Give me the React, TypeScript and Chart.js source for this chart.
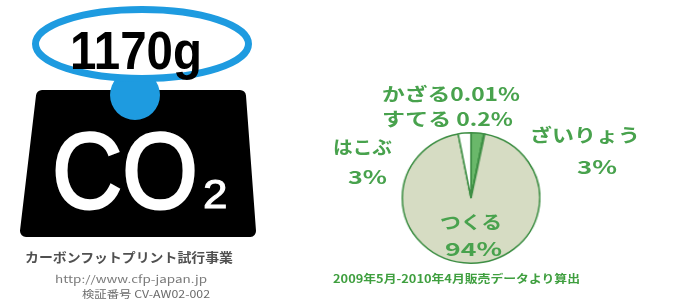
import React, { useEffect, useRef } from "react";
import { Chart, registerables } from "chart.js";

Chart.register(...registerables);

// ---- data ----
const categories = ["ざいりょう", "かざる", "すてる", "つくる", "はこぶ"];
const values = [3, 0.01, 0.2, 94, 3];
const sliceColors = ["#6ab86a", "#6ab86a", "#ffffff", "#d6dcc3", "#ffffff"];
const footprintValue = "1170g";
const periodNote = "2009年5月-2010年4月販売データより算出";
const logoLines = ["カーボンフットプリント試行事業", "http://www.cfp-japan.jp", "検証番号 CV-AW02-002"];

const GREEN = "#48a24d";
const JP = "'Noto Sans CJK JP', 'Noto Sans', sans-serif";

function pct(i: number) {
  return `${values[i]}%`;
}

export default function App() {
  const ref = useRef<HTMLCanvasElement | null>(null);

  useEffect(() => {
    if (!ref.current) return;
    const chart = new Chart(ref.current, {
      type: "pie",
      data: {
        labels: categories,
        datasets: [
          {
            data: values,
            backgroundColor: sliceColors,
            borderColor: "#3f8f45",
            borderWidth: 1.5,
            hoverOffset: 0,
            offset: 0,
          },
        ],
      },
      options: {
        animation: false,
        responsive: true,
        maintainAspectRatio: false,
        layout: { padding: 0 },
        plugins: { legend: { display: false }, tooltip: { enabled: false } },
      },
    });
    return () => chart.destroy();
  }, []);

  return (
    <div
      style={{
        position: "fixed",
        left: 0,
        top: 0,
        width: 673,
        height: 304,
        background: "#ffffff",
        overflow: "hidden",
      }}
    >
      <div
        style={{
          position: "absolute",
          left: 405,
          top: 132,
          width: 132,
          height: 132,
          transform: "scaleX(1.053)",
          transformOrigin: "center center",
        }}
      >
        <canvas ref={ref} />
      </div>
      <svg
        width={673}
        height={304}
        style={{ position: "absolute", left: 0, top: 0, pointerEvents: "none" }}
      >
        {/* CFP logo */}
        <polygon
          points="42,96 240,96 250,231 26,231"
          fill="#000"
          stroke="#000"
          strokeWidth={12}
          strokeLinejoin="round"
        />
        <circle cx={135} cy={95} r={25} fill="#1e9be0" />
        <ellipse cx={142} cy={44} rx={106.5} ry={34.5} fill="#fff" stroke="#1e9be0" strokeWidth={7} />
        <text
          x={70}
          y={69}
          fontFamily="'Liberation Sans', Arial, sans-serif"
          fontWeight="bold"
          fontSize={54}
          textLength={132}
          lengthAdjust="spacingAndGlyphs"
          fill="#000"
        >
          {footprintValue}
        </text>
        <text
          transform="translate(52,208) scale(0.9,1)"
          fontFamily="'Liberation Sans', Arial, sans-serif"
          fontSize={108}
          fill="#fff"
          stroke="#fff"
          strokeWidth={3}
        >
          CO
        </text>
        <text
          transform="translate(203,208) scale(1.1,1)"
          fontFamily="'Liberation Sans', Arial, sans-serif"
          fontSize={40}
          fill="#fff"
          stroke="#fff"
          strokeWidth={1}
        >
          2
        </text>
        <text x={25} y={262} fontFamily={JP} fontWeight="bold" fontSize={13} textLength={208} lengthAdjust="spacingAndGlyphs" fill="#505050">
          {logoLines[0]}
        </text>
        <text x={55} y={283} fontFamily={JP} fontSize={10} textLength={152} lengthAdjust="spacingAndGlyphs" fill="#7a7a7a">
          {logoLines[1]}
        </text>
        <text x={82} y={298} fontFamily={JP} fontSize={10} textLength={128} lengthAdjust="spacingAndGlyphs" fill="#6a6a6a">
          {logoLines[2]}
        </text>

        {/* pie labels */}
        <g fontFamily={JP} fontWeight="bold" fill={GREEN}>
          <text x={382} y={101} fontSize={18} textLength={138} lengthAdjust="spacingAndGlyphs">
            {categories[1] + pct(1)}
          </text>
          <text x={382} y={126} fontSize={18} textLength={131} lengthAdjust="spacingAndGlyphs">
            {categories[2] + " " + pct(2)}
          </text>
          <text x={530} y={142} fontSize={18} textLength={110} lengthAdjust="spacingAndGlyphs">
            {categories[0]}
          </text>
          <text x={577} y={174} fontSize={18} textLength={40} lengthAdjust="spacingAndGlyphs">
            {pct(0)}
          </text>
          <text x={333} y={154} fontSize={18} textLength={59} lengthAdjust="spacingAndGlyphs">
            {categories[4]}
          </text>
          <text x={348} y={184} fontSize={18} textLength={39} lengthAdjust="spacingAndGlyphs">
            {pct(4)}
          </text>
          <text x={440} y={229} fontSize={18} textLength={62} lengthAdjust="spacingAndGlyphs">
            {categories[3]}
          </text>
          <text x={445} y={256} fontSize={18} textLength={57} lengthAdjust="spacingAndGlyphs">
            {pct(3)}
          </text>
          <text x={333} y={283} fontSize={11} textLength={247} lengthAdjust="spacingAndGlyphs" fill="#3f9f3f">
            {periodNote}
          </text>
        </g>
      </svg>
    </div>
  );
}
